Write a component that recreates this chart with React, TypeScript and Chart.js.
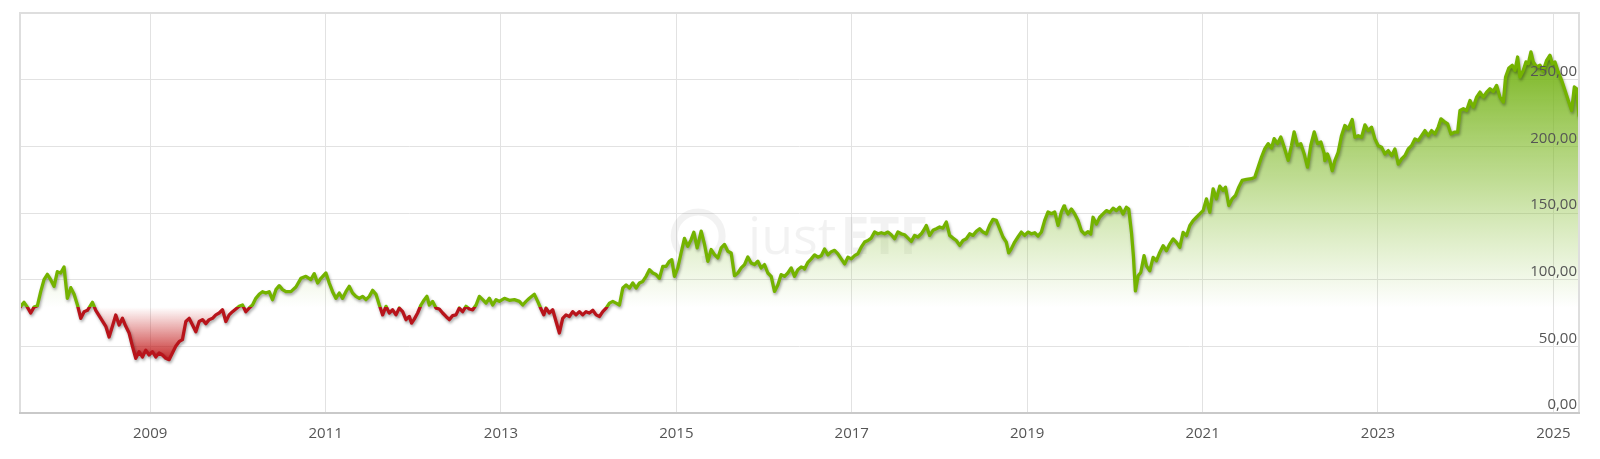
import React, { useEffect, useRef } from "react";
import { Chart, registerables } from "chart.js";

Chart.register(...registerables);

// ---- Data (decimal years, price in EUR) ----
const BASE_VALUE = 79.3; // starting price: threshold between green (gain) and red (loss)
const TICK_YEARS = [2009, 2011, 2013, 2015, 2017, 2019, 2021, 2023, 2025];
const Y_MAX = 300;
const Y_STEP = 50;

const years2007 = [
  2007.516, 2007.562, 2007.600, 2007.638, 2007.676, 2007.714, 2007.752, 2007.790, 2007.828, 2007.866,
  2007.904, 2007.942, 2007.980, 2008.018, 2008.056, 2008.095, 2008.133, 2008.171, 2008.209, 2008.247,
  2008.285, 2008.342, 2008.380, 2008.437, 2008.494, 2008.532, 2008.570, 2008.608, 2008.646, 2008.684,
  2008.722, 2008.760, 2008.798, 2008.836, 2008.874, 2008.912, 2008.950, 2008.988, 2009.026, 2009.064,
  2009.102, 2009.140, 2009.178, 2009.216, 2009.254, 2009.292, 2009.330, 2009.368, 2009.407, 2009.445,
  2009.483, 2009.521, 2009.559, 2009.597, 2009.635, 2009.673, 2009.711, 2009.749, 2009.787, 2009.825,
  2009.863, 2009.901, 2009.939, 2009.977, 2010.015, 2010.053, 2010.091, 2010.129, 2010.167, 2010.205,
  2010.243, 2010.281, 2010.319, 2010.357, 2010.395, 2010.434, 2010.472, 2010.510,
];
const prices2007 = [
  79.4, 83, 79.4, 75, 79.4, 80.4, 91, 100, 104, 100,
  95, 106, 105, 109.5, 86, 94, 89, 81, 71, 76,
  77, 83, 77, 71, 65, 57, 65, 73.5, 66, 71,
  65, 60, 50, 41, 46, 42, 47, 43.5, 46, 42,
  45, 43.5, 41, 40, 45, 50, 53.5, 55, 68.6, 71,
  66, 61, 68.6, 70, 67, 70, 71, 73.6, 75, 77.4,
  68.6, 73.6, 76, 78, 80, 81, 76, 78.7, 81, 86,
  89, 91, 90, 91, 85, 92.5, 95.5, 92.5,
];

const years2010 = [
  2010.548, 2010.605, 2010.662, 2010.719, 2010.776, 2010.833, 2010.871, 2010.909, 2010.947, 2011.004,
  2011.042, 2011.080, 2011.118, 2011.156, 2011.194, 2011.232, 2011.270, 2011.308, 2011.346, 2011.385,
  2011.423, 2011.461, 2011.499, 2011.537, 2011.575, 2011.613, 2011.651, 2011.689, 2011.727, 2011.765,
  2011.803, 2011.841, 2011.879, 2011.917, 2011.955, 2011.981, 2012.012, 2012.050, 2012.088, 2012.126,
  2012.156, 2012.183, 2012.221, 2012.259, 2012.297, 2012.335, 2012.373, 2012.411, 2012.449, 2012.487,
  2012.525, 2012.563, 2012.601, 2012.639, 2012.678, 2012.716, 2012.754, 2012.792, 2012.830, 2012.868,
  2012.906, 2012.944, 2012.982, 2013.039, 2013.096, 2013.153, 2013.210, 2013.248, 2013.286, 2013.324,
  2013.381, 2013.419, 2013.457, 2013.488,
];
const prices2010 = [
  91, 91, 94.5, 101, 102.5, 100, 104.5, 97.5, 101, 105,
  97.5, 91, 86, 90, 86, 91, 95, 90, 87.5, 86,
  87.5, 85, 87.5, 92, 89, 81, 73.6, 80, 75, 77.4,
  73.6, 78.7, 76, 70, 72.4, 67.4, 70.4, 75, 81, 85,
  87.5, 81, 83.7, 78.7, 78, 75, 72.4, 70, 73, 73.6,
  78.7, 76, 80, 78, 77.4, 81, 87.5, 85, 82.5, 86,
  81, 85, 83.7, 86, 84.5, 85, 83.7, 81, 83.7, 86,
  89, 83.7, 78, 73.6,
];

const years2013 = [
  2013.514, 2013.552, 2013.590, 2013.628, 2013.666, 2013.704, 2013.742, 2013.780, 2013.818, 2013.856,
  2013.894, 2013.932, 2013.970, 2014.008, 2014.047, 2014.085, 2014.123, 2014.161, 2014.199, 2014.237,
  2014.275, 2014.313, 2014.351, 2014.389, 2014.427, 2014.465, 2014.503, 2014.541, 2014.579, 2014.617,
  2014.655, 2014.693, 2014.731, 2014.769, 2014.807, 2014.845, 2014.883, 2014.921, 2014.948, 2014.978,
  2015.016, 2015.054, 2015.092, 2015.130, 2015.168, 2015.199, 2015.237, 2015.283, 2015.321, 2015.359,
  2015.397, 2015.435, 2015.473, 2015.511, 2015.549, 2015.587, 2015.625, 2015.663, 2015.701, 2015.739,
  2015.777, 2015.815, 2015.853, 2015.891, 2015.929, 2015.967, 2016.005, 2016.043, 2016.081, 2016.119,
  2016.157, 2016.195, 2016.233, 2016.271, 2016.309, 2016.347, 2016.385, 2016.423, 2016.454,
];
const prices2013 = [
  78.7, 75, 77.4, 68.6, 60, 71, 73.6, 72.4, 76, 73.6,
  76, 73.6, 76, 75, 77, 73.6, 72.4, 76, 78.7, 82.4,
  83.7, 82.4, 81, 93.7, 96, 93.7, 97.5, 93.7, 97.5, 98.7,
  102.5, 107.5, 105, 103.8, 101, 110, 110, 113.8, 115, 102.5,
  108.8, 120, 131, 125, 130, 135.6, 123.8, 136.4, 126.4, 113.8,
  122.6, 118.8, 116.3, 123.8, 126.4, 121.3, 120, 103, 105, 108.8,
  111.3, 117, 112.5, 111.3, 113.8, 108.8, 111.3, 105, 102.5, 91.2,
  96, 103.8, 102.5, 105, 108.8, 102.5, 107.5, 109.5, 108.8,
];

const years2016 = [
  2016.461, 2016.500, 2016.538, 2016.576, 2016.614, 2016.652, 2016.690, 2016.728, 2016.766, 2016.804,
  2016.842, 2016.880, 2016.918, 2016.956, 2016.994, 2017.032, 2017.070, 2017.108, 2017.146, 2017.184,
  2017.222, 2017.260, 2017.298, 2017.336, 2017.374, 2017.412, 2017.450, 2017.488, 2017.526, 2017.564,
  2017.602, 2017.641, 2017.679, 2017.717, 2017.755, 2017.793, 2017.831, 2017.850, 2017.888, 2017.926,
  2017.964, 2018.002, 2018.040, 2018.078, 2018.116, 2018.154, 2018.192, 2018.230, 2018.268, 2018.306,
  2018.344, 2018.382, 2018.420, 2018.458, 2018.496, 2018.534, 2018.572, 2018.610, 2018.648, 2018.686,
  2018.724, 2018.762, 2018.789, 2018.819, 2018.857, 2018.895, 2018.933, 2018.971, 2019.009, 2019.047,
  2019.086, 2019.124, 2019.162, 2019.200, 2019.238, 2019.276, 2019.314, 2019.352, 2019.390, 2019.420,
];
const prices2016 = [
  108, 113, 115.6, 118.6, 116.9, 118, 123, 118.6, 121, 122,
  119.4, 115.6, 111.8, 116.9, 115.6, 118, 119.4, 124.4, 128.2, 129.4,
  131.2, 135.7, 134.4, 135.2, 134.4, 135.7, 133.7, 130.7, 135.7, 134.4,
  133.7, 131.2, 128.7, 133.2, 132, 134.4, 138.2, 140.7, 133.2, 137,
  138.2, 139.5, 138.7, 143.2, 133.2, 131.2, 129.4, 125.7, 129.4, 130.7,
  134.4, 133.2, 136.2, 138.2, 135.7, 134.4, 140.7, 145.2, 144.5, 138.2,
  132, 128.2, 120.1, 123.1, 128.2, 132, 135.7, 133.2, 135.7, 134.4,
  135.2, 132.7, 135.7, 144.5, 150.8, 149.5, 150.8, 140.7, 150.8, 155.3,
];

const years2019 = [
  2019.428, 2019.466, 2019.504, 2019.542, 2019.580, 2019.618, 2019.656, 2019.694, 2019.725, 2019.751,
  2019.789, 2019.827, 2019.865, 2019.903, 2019.941, 2019.979, 2020.017, 2020.055, 2020.093, 2020.131,
  2020.158, 2020.189, 2020.211, 2020.234, 2020.265, 2020.295, 2020.333, 2020.360, 2020.398, 2020.436,
  2020.474, 2020.512, 2020.550, 2020.588, 2020.626, 2020.664, 2020.702, 2020.740, 2020.778, 2020.816,
  2020.854, 2020.892, 2020.930, 2020.968, 2021.006, 2021.044, 2021.082, 2021.120, 2021.158, 2021.196,
  2021.234, 2021.261, 2021.299, 2021.337, 2021.375, 2021.413, 2021.451, 2021.501, 2021.558, 2021.596,
  2021.634, 2021.672, 2021.710, 2021.748, 2021.786, 2021.816, 2021.854, 2021.892, 2021.930, 2021.976,
  2022.014, 2022.044, 2022.082, 2022.120, 2022.158, 2022.196, 2022.234, 2022.273, 2022.311, 2022.349,
  2022.387,
];
const prices2019 = [
  154.3, 149.3, 153, 149.3, 144.3, 136.7, 134.2, 136, 134.2, 146.8,
  141.8, 146.8, 149.3, 151.8, 150.6, 153.6, 151.8, 154.3, 149.3, 154.3,
  153, 135.5, 118, 91.6, 102.9, 105.4, 118, 110.4, 106.6, 116.7,
  114.2, 120.4, 125.5, 121.7, 126.7, 130.5, 128, 124.2, 135.5, 133,
  140.5, 144.3, 146.8, 149.3, 151.8, 160.6, 150.6, 168.1, 160.6, 170.1,
  166.9, 169.4, 155.6, 160.6, 163.1, 169.4, 174.4, 175.2, 175.7, 176.9,
  184.4, 192, 198.2, 202, 198.7, 205.8, 202, 207, 199.5, 189.5,
  200.8, 210.8, 200.8, 202, 194.5, 184.4, 200.8, 210.8, 202, 203.3,
  194.5,
];

const years2022 = [
  2022.394, 2022.425, 2022.451, 2022.478, 2022.508, 2022.546, 2022.584, 2022.622, 2022.660, 2022.706,
  2022.737, 2022.775, 2022.813, 2022.851, 2022.889, 2022.927, 2022.965, 2023.003, 2023.041, 2023.079,
  2023.117, 2023.155, 2023.193, 2023.231, 2023.269, 2023.307, 2023.345, 2023.383, 2023.421, 2023.459,
  2023.497, 2023.535, 2023.573, 2023.611, 2023.649, 2023.687, 2023.718, 2023.756, 2023.794, 2023.832,
  2023.870, 2023.908, 2023.935, 2023.973, 2024.011, 2024.049, 2024.087, 2024.125, 2024.163, 2024.201,
  2024.239, 2024.277, 2024.315, 2024.353, 2024.391, 2024.429, 2024.455, 2024.493, 2024.531, 2024.562,
  2024.592, 2024.619, 2024.657, 2024.687, 2024.714, 2024.744, 2024.771, 2024.809, 2024.847, 2024.885,
  2024.923, 2024.961, 2024.988, 2025.018, 2025.056, 2025.094, 2025.132, 2025.170, 2025.208, 2025.239,
  2025.265, 2025.292,
];
const prices2022 = [
  189.3, 194.3, 189.3, 181.7, 189.3, 195.5, 208, 215.6, 213.1, 220.1,
  206.8, 208, 206.8, 216.1, 211.8, 214.4, 205.6, 200.5, 199.3, 194.3,
  196.8, 193, 198, 186.7, 190.5, 193, 198, 200.5, 205.6, 204.3,
  208, 211.8, 208, 211.8, 209.3, 214.4, 220.6, 218.6, 216.9, 209.3,
  210.6, 210.6, 226.9, 228.2, 226.9, 234.4, 229.4, 236.9, 240.7, 236.9,
  240.7, 243.2, 241.2, 245.7, 236.9, 233.2, 252, 258.8, 260.8, 257,
  267, 252, 257, 263.3, 262, 270.8, 263.3, 259.5, 260.8, 257,
  264.5, 268.3, 262, 263.3, 255.8, 249.5, 242, 234.4, 226.9, 244.5,
  243.2, 223.1,
];

const years = [...years2007, ...years2010, ...years2013, ...years2016, ...years2019, ...years2022];
const prices = [...prices2007, ...prices2010, ...prices2013, ...prices2016, ...prices2019, ...prices2022];

// ---- Styles ----
const GREEN = "#74b300";
const RED = "#b8141b";
const GRID = "#e2e2e2";
const FRAME = "#dedede";
const LABEL = "#555555";
const FONT = "'Open Sans', 'Noto Sans', sans-serif";

const frameAndWatermark = {
  id: "frameAndWatermark",
  beforeDatasetsDraw(chart: any) {
    const { ctx, chartArea: a } = chart;
    const w = a.right - a.left;
    const h = a.bottom - a.top;
    ctx.save();
    ctx.strokeStyle = "rgba(0,0,0,0.05)";
    ctx.fillStyle = "rgba(0,0,0,0.05)";
    ctx.lineWidth = 7;
    const cx = a.left + w * 0.435;
    const cy = a.top + h * 0.5575;
    ctx.beginPath();
    ctx.arc(cx, cy, 24, Math.PI * 0.75, Math.PI * 2.45);
    ctx.stroke();
    const tx = a.left + w * 0.467;
    const ty = a.top + h * 0.6025;
    ctx.textBaseline = "alphabetic";
    ctx.textAlign = "left";
    ctx.font = `400 52px ${FONT}`;
    ctx.fillText("just", tx, ty);
    const jw = ctx.measureText("just").width;
    ctx.font = `700 52px ${FONT}`;
    ctx.fillText("ETF", tx + jw + 4, ty);
    ctx.restore();
  },
  afterDatasetsDraw(chart: any) {
    const { ctx, chartArea: a } = chart;
    ctx.save();
    ctx.strokeStyle = FRAME;
    ctx.lineWidth = 2;
    ctx.strokeRect(a.left, a.top, a.right - a.left, a.bottom - a.top);
    ctx.strokeStyle = "#c9c9c9";
    ctx.beginPath();
    ctx.moveTo(a.left - 1, a.bottom);
    ctx.lineTo(a.right + 1, a.bottom);
    ctx.stroke();
    ctx.restore();
  },
};

const lineShadow = {
  id: "lineShadow",
  beforeDatasetDraw(chart: any) {
    const ctx = chart.ctx;
    ctx.save();
    ctx.shadowColor = "rgba(0,0,0,0.35)";
    ctx.shadowBlur = 3;
    ctx.shadowOffsetX = 1;
    ctx.shadowOffsetY = 2;
  },
  afterDatasetDraw(chart: any) {
    chart.ctx.restore();
  },
};

const yLabel = (v: any) => (Number(v) >= Y_MAX ? "" : Number(v).toFixed(2).replace(".", ","));

export default function App() {
  const canvasRef = useRef<HTMLCanvasElement>(null);

  useEffect(() => {
    const canvas = canvasRef.current;
    if (!canvas) return;
    const points = years.map((x, i) => ({ x, y: prices[i] }));
    const maxPrice = Math.max(...prices);
    const minPrice = Math.min(...prices);

    const lineColor = (c: any) => {
      const chart = c.chart;
      const a = chart.chartArea;
      if (!a) return GREEN;
      const yb = chart.scales.y.getPixelForValue(BASE_VALUE);
      const f = Math.min(1, Math.max(0, (yb - a.top) / (a.bottom - a.top)));
      const g = chart.ctx.createLinearGradient(0, a.top, 0, a.bottom);
      g.addColorStop(0, GREEN);
      g.addColorStop(f, GREEN);
      g.addColorStop(f, RED);
      g.addColorStop(1, RED);
      return g;
    };

    const fillOption = (c: any) => {
      const chart = c.chart;
      const a = chart.chartArea;
      if (!a) {
        return { target: { value: BASE_VALUE }, above: "rgba(118,178,0,0.3)", below: "rgba(190,20,20,0.3)" };
      }
      const y = chart.scales.y;
      const yb = y.getPixelForValue(BASE_VALUE);
      const gUp = chart.ctx.createLinearGradient(0, y.getPixelForValue(maxPrice), 0, yb);
      gUp.addColorStop(0, "rgba(112,176,16,0.95)");
      gUp.addColorStop(0.5, "rgba(128,186,40,0.5)");
      gUp.addColorStop(1, "rgba(140,195,60,0)");
      const gDown = chart.ctx.createLinearGradient(0, yb, 0, y.getPixelForValue(minPrice));
      gDown.addColorStop(0, "rgba(200,30,30,0)");
      gDown.addColorStop(1, "rgba(190,20,20,0.9)");
      return { target: { value: BASE_VALUE }, above: gUp, below: gDown };
    };

    const chart = new Chart(canvas, {
      type: "line",
      data: {
        datasets: [
          {
            label: "Kurs",
            data: points,
            parsing: false,
            borderColor: lineColor,
            borderWidth: 3.3,
            borderJoinStyle: "round",
            borderCapStyle: "round",
            pointRadius: 0,
            tension: 0,
            fill: fillOption,
          } as any,
        ],
      },
      options: {
        animation: false,
        responsive: true,
        maintainAspectRatio: false,
        layout: { padding: { left: 20, top: 13, right: 0, bottom: 0 } },
        plugins: {
          legend: { display: false },
          tooltip: { enabled: false },
        },
        scales: {
          x: {
            type: "linear",
            min: years[0],
            max: years[years.length - 1],
            afterBuildTicks: (scale: any) => {
              scale.ticks = TICK_YEARS.map((value) => ({ value }));
            },
            afterFit: (scale: any) => {
              scale.height = 46;
            },
            grid: { color: GRID, lineWidth: 1, drawTicks: false },
            border: { display: false },
            ticks: {
              padding: 12,
              color: LABEL,
              font: { family: FONT, size: 15 },
              maxRotation: 0,
              autoSkip: false,
              callback: (v: any) => String(v),
            },
          },
          y: {
            position: "right",
            min: 0,
            max: Y_MAX,
            afterFit: (scale: any) => {
              scale.width = 21;
            },
            grid: { color: GRID, lineWidth: 1, drawTicks: false },
            border: { display: false },
            ticks: {
              z: 1,
              stepSize: Y_STEP,
              mirror: true,
              padding: -2,
              labelOffset: -8,
              color: LABEL,
              font: { family: FONT, size: 15 },
              callback: yLabel,
            },
          },
        },
      },
      plugins: [frameAndWatermark, lineShadow],
    });
    return () => chart.destroy();
  }, []);

  return (
    <div style={{ position: "absolute", left: 0, top: 0, width: 1600, height: 459 }}>
      <canvas ref={canvasRef} />
    </div>
  );
}
